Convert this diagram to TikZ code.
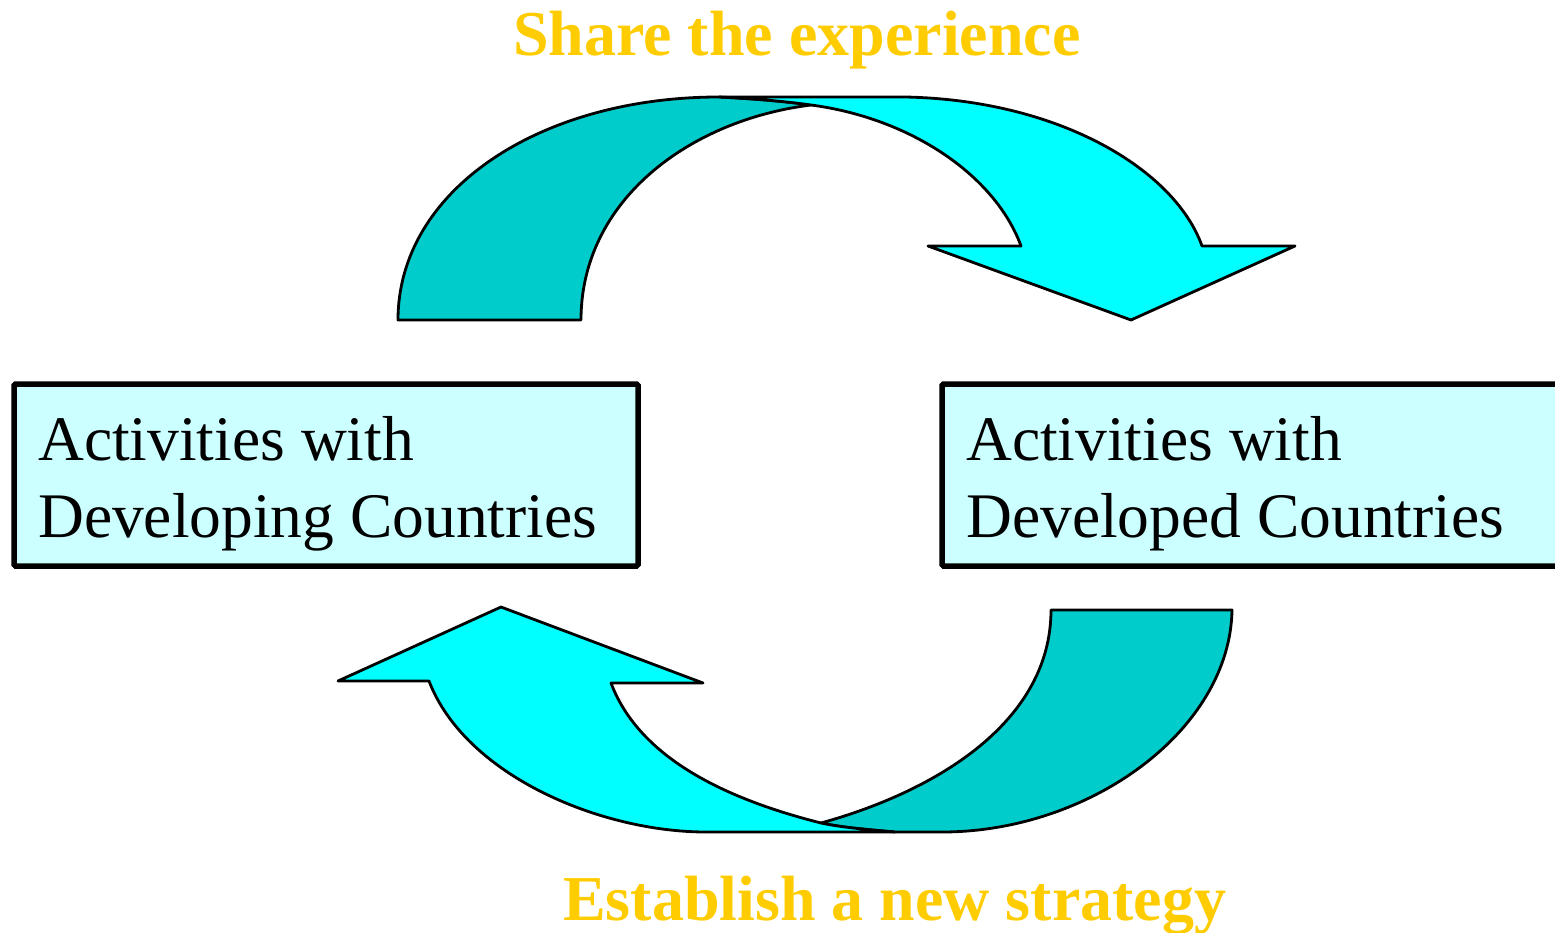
\documentclass[tikz,border=0pt]{standalone}
\usepackage{fontspec}
\setmainfont{Liberation Serif}
\definecolor{gold}{RGB}{255,204,0}
\definecolor{lcyan}{RGB}{0,255,255}
\definecolor{dcyan}{RGB}{0,204,204}
\definecolor{boxfill}{RGB}{204,255,255}
\tikzset{
  boxstyle/.style={draw=black, line width=5.5pt, rounded corners=1.5pt, fill=boxfill},
  boxtext/.style={anchor=base west, inner sep=0pt, font=\fontsize{63.5}{77}\selectfont},
  titletext/.style={anchor=base west, inner sep=0pt, text=gold, font=\fontsize{64}{77}\selectfont\bfseries},
  darkband/.style={draw=black, line width=2.8pt, line join=round, fill=dcyan},
  lightband/.style={draw=black, line width=2.8pt, line join=round, fill=lcyan}
}
\begin{document}
\begin{tikzpicture}[x=1pt,y=-1pt]
\useasboundingbox (0,0) rectangle (1555,933);
\clip (0,0) rectangle (1555,933);
% titles
\node[titletext] (share) at (513,56) {Share the experience};
\node[titletext] (estab) at (563,920) {Establish a new strategy};
% boxes
\draw[boxstyle] (14,384) rectangle (638,566);
\node[boxtext] (l1) at (38,460) {Activities with};
\node[boxtext] (l2) at (38,537) {Developing Countries};
\draw[boxstyle] (942,384) rectangle (1570,566);
\node[boxtext] (r1) at (966,460) {Activities with};
\node[boxtext] (r2) at (966,537) {Developed Countries};
% top arrow: dark band
\draw[darkband] (398,320) .. controls (398,190) and (540,97) .. (719,97)
  .. controls (760,99) and (790,102) .. (811,105)
  .. controls (690,120) and (581,200) .. (581,320) -- cycle;
% top arrow: light band
\draw[lightband] (719,97) -- (905,97)
  .. controls (1060,100) and (1175,170) .. (1202,246)
  -- (1295,246) -- (1131,320) -- (928,246) -- (1021,246)
  .. controls (995,175) and (910,118) .. (811,105)
  .. controls (790,102) and (760,99) .. (719,97) -- cycle;
% bottom arrow: dark band
\draw[darkband] (1051,610) -- (1232,610)
  .. controls (1230,730) and (1090,832) .. (942,832)
  -- (895,832)
  .. controls (860,829) and (840,827) .. (821,823)
  .. controls (940,790) and (1051,720) .. (1051,610) -- cycle;
% bottom arrow: light band
\draw[lightband] (895,832) -- (706,832)
  .. controls (600,832) and (465,775) .. (429,681)
  -- (338,681) -- (501,607) -- (703,683) -- (611,683)
  .. controls (640,760) and (730,800) .. (821,823)
  .. controls (840,827) and (860,829) .. (895,832) -- cycle;
\end{tikzpicture}
\end{document}
